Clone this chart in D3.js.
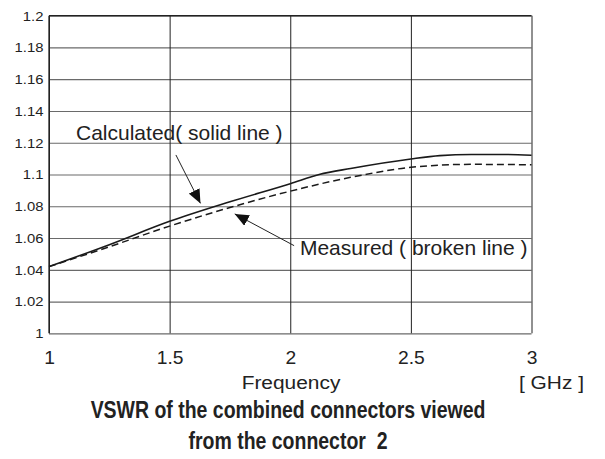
<!DOCTYPE html>
<html>
<head>
<meta charset="utf-8">
<script src="https://cdn.jsdelivr.net/npm/d3@7"></script>
<style>
  html, body { margin: 0; padding: 0; background: #fff; }
  svg { display: block; }
  .tick text { font-family: "Liberation Sans", Arial, sans-serif; fill: #222; }
</style>
</head>
<body>
<svg id="chart" width="605" height="459"></svg>
<script>
// Frequency ticks and labels (GHz)
const xTicks = [1, 1.5, 2, 2.5, 3];
const xTickLabels = ["1", "1.5", "2", "2.5", "3"];
// VSWR ticks and labels
const yTicks = [1, 1.02, 1.04, 1.06, 1.08, 1.1, 1.12, 1.14, 1.16, 1.18, 1.2];
const yTickLabels = ["1", "1.02", "1.04", "1.06", "1.08", "1.1", "1.12", "1.14", "1.16", "1.18", "1.2"];

// Calculated VSWR (solid line)
const calcFreq = [1, 1.25, 1.5, 1.75, 2, 2.12, 2.25, 2.5, 2.62, 2.75, 2.9, 3];
const calcVswr = [1.042, 1.0558, 1.0705, 1.0828, 1.0942, 1.1, 1.1038, 1.1098, 1.1119, 1.1126, 1.1126, 1.1121];

// Measured VSWR (broken line)
const measFreq = [1, 1.25, 1.5, 1.75, 2, 2.25, 2.5, 2.75, 3];
const measVswr = [1.042, 1.0545, 1.0675, 1.0792, 1.0895, 1.0982, 1.1045, 1.1064, 1.1061];

// Annotation callouts: label anchor and arrow tail/tip, in data units
const calcNote = { text: "Calculated( solid line )", x: 1.112, y: 1.1217, from: [1.526, 1.1123], to: [1.628, 1.0818] };
const measNote = { text: "Measured ( broken line )", x: 2.04, y: 1.0493, from: [2.016, 1.0552], to: [1.77, 1.0752] };

const titleLines = ["VSWR of the combined connectors viewed", "from the connector  2"];

const svg = d3.select("#chart");
const plotLeft = 49, plotRight = 531.5, plotTop = 15.7, plotBottom = 333.3;
const sans = "'Liberation Sans', Arial, sans-serif";
const stretch = 1.1; // slightly wide lettering for axis text

const x = d3.scaleLinear().domain([1, 3]).range([plotLeft, plotRight]);
const y = d3.scaleLinear().domain([1, 1.2]).range([plotBottom, plotTop]);

// Horizontal grid + y labels
const yAxis = d3.axisLeft(y)
  .tickValues(yTicks)
  .tickFormat((d, i) => yTickLabels[i])
  .tickSize(-(plotRight - plotLeft))
  .tickPadding(5);
const gy = svg.append("g").attr("transform", `translate(${plotLeft},0)`).call(yAxis);
gy.select(".domain").remove();
gy.selectAll(".tick line").attr("stroke", "#6a6a6a").attr("stroke-width", 1.2);
gy.selectAll(".tick text").attr("font-size", 13.5).attr("transform", `scale(${stretch},1)`);

// Vertical grid + x labels
const xAxis = d3.axisBottom(x)
  .tickValues(xTicks)
  .tickFormat((d, i) => xTickLabels[i])
  .tickSize(-(plotBottom - plotTop))
  .tickPadding(18);
const gx = svg.append("g").attr("transform", `translate(0,${plotBottom})`).call(xAxis);
gx.select(".domain").remove();
gx.selectAll(".tick line").attr("stroke", "#222").attr("stroke-width", 1);
gx.selectAll(".tick text").attr("font-size", 17.5).attr("transform", `scale(${stretch},1)`);

// Frame edges
svg.append("line").attr("x1", plotLeft).attr("x2", plotRight).attr("y1", plotTop).attr("y2", plotTop)
  .attr("stroke", "#222").attr("stroke-width", 1.2);
svg.append("line").attr("x1", plotLeft).attr("x2", plotLeft).attr("y1", plotTop).attr("y2", plotBottom)
  .attr("stroke", "#222").attr("stroke-width", 1.3);

// Curves
const line = d3.line().x(d => x(d[0])).y(d => y(d[1])).curve(d3.curveMonotoneX);
svg.append("path")
  .datum(calcFreq.map((f, i) => [f, calcVswr[i]]))
  .attr("d", line).attr("fill", "none").attr("stroke", "#1a1a1a").attr("stroke-width", 1.6);
svg.append("path")
  .datum(measFreq.map((f, i) => [f, measVswr[i]]))
  .attr("d", line).attr("fill", "none").attr("stroke", "#1a1a1a").attr("stroke-width", 1.5)
  .attr("stroke-dasharray", "7,4");

// Arrowhead marker
svg.append("defs").append("marker")
  .attr("id", "head")
  .attr("viewBox", "0 0 14 12")
  .attr("refX", 14).attr("refY", 6)
  .attr("markerWidth", 14).attr("markerHeight", 12)
  .attr("markerUnits", "userSpaceOnUse")
  .attr("orient", "auto")
  .append("path").attr("d", "M0,0 L14,6 L0,12 Z").attr("fill", "#111");

// Callouts
[calcNote, measNote].forEach(n => {
  svg.append("line")
    .attr("x1", x(n.from[0])).attr("y1", y(n.from[1]))
    .attr("x2", x(n.to[0])).attr("y2", y(n.to[1]))
    .attr("stroke", "#222").attr("stroke-width", 1)
    .attr("marker-end", "url(#head)");
  svg.append("text")
    .attr("x", x(n.x)).attr("y", y(n.y))
    .attr("font-family", sans)
    .attr("font-size", 21).attr("fill", "#222")
    .text(n.text);
});

// Axis titles
function stretchedText(label, cx, baseline, size) {
  svg.append("text")
    .attr("transform", `translate(${cx},${baseline}) scale(${stretch},1)`)
    .attr("text-anchor", "middle")
    .attr("font-family", sans)
    .attr("font-size", size).attr("fill", "#222")
    .text(label);
}
stretchedText("Frequency", 291, 389.3, 19);
stretchedText("[ GHz ]", 551.5, 389.3, 19);

// Chart title: condensed bold, two centered lines
const titleG = svg.append("g");
const titleTexts = titleG.selectAll("text").data(titleLines).join("text")
  .attr("text-anchor", "middle")
  .attr("font-family", sans)
  .attr("font-weight", "bold")
  .attr("font-size", 23)
  .attr("fill", "#222")
  .style("white-space", "pre")
  .text(d => d);
const natural = titleTexts.nodes()[0].getComputedTextLength();
const squeeze = 395 / natural;
titleTexts.attr("transform", (d, i) => `translate(288,${418 + i * 31}) scale(${squeeze},1)`);
</script>
</body>
</html>
